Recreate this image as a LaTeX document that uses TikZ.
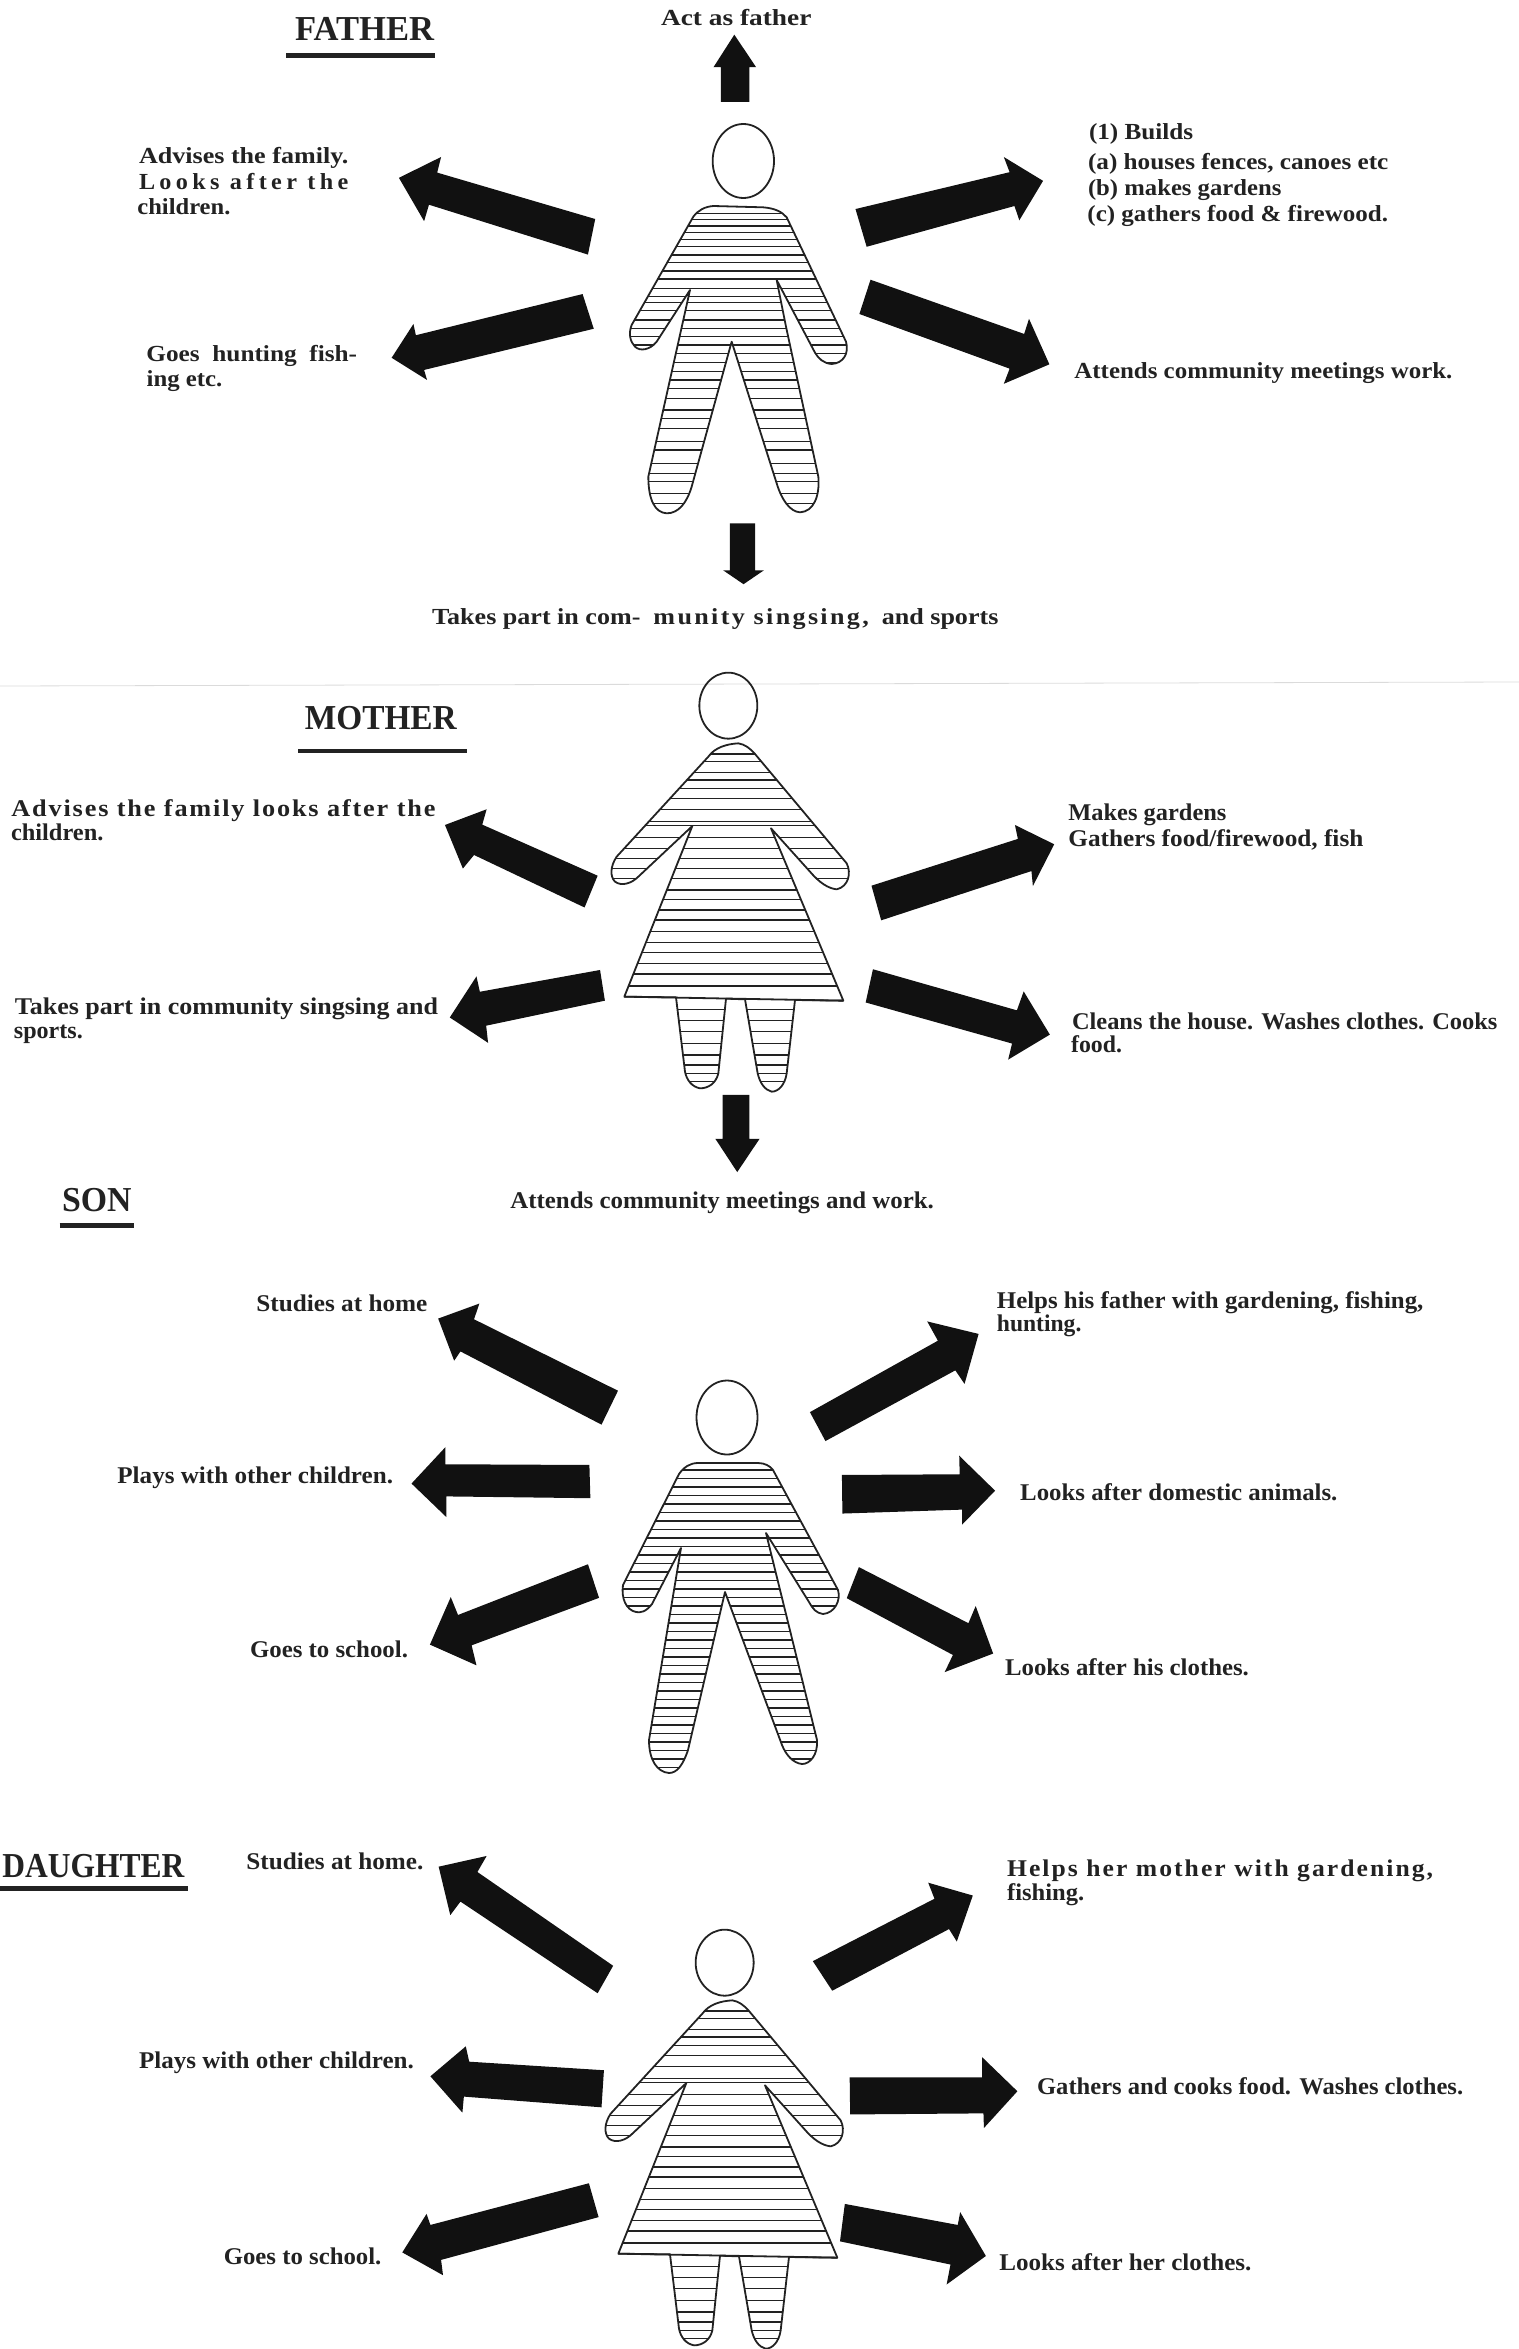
\documentclass[tikz,border=0pt]{standalone}
\usepackage{fontspec}
\usepackage{graphicx}
\setmainfont{Liberation Serif}
\newdimen\pxu \pxu=.5pt
\newcommand{\spc}[2]{{\addfontfeature{LetterSpace=#1}#2}}
\definecolor{ink}{HTML}{222222}
\definecolor{blk}{HTML}{111111}
\tikzset{
  txt/.style={anchor=base west,inner sep=0pt,xshift=-.5pt,yshift=-.6pt,text=ink,font=\fontsize{11.5}{13}\selectfont\bfseries},
  txtb/.style={txt,font=\fontsize{12}{14}\selectfont\bfseries},
  ttl/.style={anchor=base west,inner sep=0pt,text=ink,font=\fontsize{17.5}{20}\selectfont\bfseries},
  rulebar/.style={draw=ink,line width=2.2pt},
  blockarrow/.style={fill=blk,draw=none},
  figline/.style={draw=ink,line width=.9pt,line join=round},
  stripe/.style={draw=ink,line width=.75pt},
  faint/.style={draw=black!14,line width=.4pt},
  pnlA/.style={xscale=.4847,yscale=.4337},
  pnlB/.style={xscale=.4847,yscale=.3571},
  pnlC/.style={xscale=.4847,yscale=.3565}
}
% label: name, x, baseline y, width, text
\newcommand{\lbl}[5]{\node[txt] (#1) at (#2,#3) {\resizebox{#4\pxu}{\height}{#5}};}
\newcommand{\lblb}[5]{\node[txtb] (#1) at (#2,#3) {\resizebox{#4\pxu}{\height}{#5}};}
\newcommand{\ttlbl}[5]{\node[ttl] (#1) at (#2,#3) {\resizebox{#4\pxu}{\height}{#5}};}
\newcommand{\blockarr}[7]{\fill[blockarrow] #1 -- #2 -- #3 -- #4 -- #5 -- #6 -- #7 -- cycle;}
\def\manpath{(340,318) -- (490,322) .. controls (525,325) and (545,335) .. (560,352) -- (738,725) .. controls (748,760) and (730,790) .. (695,792) .. controls (670,790) and (655,775) .. (645,758) -- (530,540) -- (558,680) -- (655,1130) .. controls (660,1190) and (640,1235) .. (600,1237) .. controls (570,1235) and (545,1200) .. (530,1150) -- (395,725) -- (275,1160) .. controls (260,1210) and (235,1240) .. (200,1240) .. controls (165,1238) and (145,1200) .. (145,1130) -- (270,570) -- (170,725) .. controls (150,750) and (120,755) .. (105,740) .. controls (90,725) and (85,700) .. (95,675) -- (280,350) .. controls (295,330) and (315,320) .. (340,318) -- cycle}
\def\sonpath{(698,1463) -- (758,1463) .. controls (765,1463) and (770,1466) .. (773,1470) -- (838,1590) .. controls (841,1600) and (835,1613) .. (823,1614) .. controls (816,1613) and (813,1609) .. (809,1602) -- (766,1533) -- (817,1740) .. controls (818,1755) and (810,1764) .. (802,1764) .. controls (793,1763) and (786,1755) .. (782,1745) -- (725,1592) -- (688,1750) .. controls (683,1765) and (677,1773) .. (669,1773) .. controls (657,1772) and (649,1760) .. (649,1740) -- (681,1548) -- (652,1604) .. controls (646,1612) and (640,1613) .. (636,1612) .. controls (626,1610) and (621,1598) .. (623,1585) -- (679,1474) .. controls (684,1467) and (690,1463) .. (698,1463) -- cycle}
\def\womanpath{(355,290) .. controls (375,262) and (410,252) .. (445,250) .. controls (465,253) and (480,265) .. (495,282) -- (770,610) .. controls (785,640) and (775,680) .. (740,688) .. controls (715,685) and (690,670) .. (660,635) -- (543,505) -- (760,1022) -- (615,1020) -- (590,1240) .. controls (585,1275) and (565,1295) .. (545,1295) .. controls (525,1290) and (510,1270) .. (503,1240) -- (465,1018) -- (408,1016) -- (385,1240) .. controls (378,1270) and (355,1285) .. (330,1285) .. controls (305,1280) and (290,1260) .. (285,1235) -- (258,1012) -- (103,1010) -- (307,498) -- (145,650) .. controls (125,670) and (95,680) .. (75,665) .. controls (60,650) and (60,620) .. (80,590) -- (355,290) -- cycle}
\newcommand{\womanfig}[3]{%
  \begin{scope}[shift={(#1,#2)},scale=.33333]
    \begin{scope}
      \clip \womanpath;
      \foreach \yy in {282,305,337,360,385,415,448,485,497,533,565,595,625,655,690,718,750,780,815,848,878,910,942,978,1048,1082,1115,1150,1185,1215,1240,1265}
        \draw[stripe] (0,\yy) -- (900,\yy);
    \end{scope}
    \draw[figline] \womanpath;
    \draw[figline] (103,1010) -- (760,1022);
    \draw[figline] (#3,137) ellipse [x radius=87,y radius=99];
  \end{scope}}
\begin{document}
\begin{tikzpicture}[x=.5pt,y=-.5pt]
\useasboundingbox (0,0) rectangle (1519,2349);
\draw[faint] (0,686) -- (1519,682);

% ---------- figures ----------
\begin{scope}[shift={(600,100)},scale=.33333]
  \begin{scope}
    \clip \manpath;
    \foreach \yy in {340,358,378,398,418,440,465,488,513,537,565,590,608,632,660,685,710,735,760,788,815,840,865,895,930,955,985,1025,1050,1090,1120,1145,1180,1210}
      \draw[stripe] (0,\yy) -- (900,\yy);
  \end{scope}
  \draw[figline] \manpath;
  \draw[figline] (430,183) ellipse [x radius=92,y radius=111];
\end{scope}

\womanfig{590}{660}{415}
\womanfig{584}{1917}{422}

\begin{scope}
  \clip \sonpath;
  \foreach \yy in {1470,1478.5,1487,1495.5,1504,1512.5,1521,1529.5,1538,1546.5,1555,1563.5,1572,1580.5,1589,1597.5,1606,1614.5,1623,1631.5,1640,1648.5,1657,1665.5,1674,1682.5,1691,1699.5,1708,1716.5,1725,1733.5,1742,1750.5,1759,1767.5}
    \draw[stripe] (500,\yy) -- (900,\yy);
\end{scope}
\draw[figline] \sonpath;
\draw[figline] (727,1417.5) ellipse [x radius=30.5,y radius=37];

% ---------- arrows ----------
\begin{scope}[pnlA]
  \blockarr{(1515,80)}{(1472,155)}{(1487,155)}{(1487,235)}{(1546,235)}{(1546,155)}{(1560,155)}
  \blockarr{(823,410)}{(910,362)}{(902,398)}{(1228,505)}{(1213,587)}{(885,472)}{(875,510)}
  \blockarr{(808,825)}{(853,747)}{(858,773)}{(1202,678)}{(1225,758)}{(875,853)}{(881,876)}
  \blockarr{(1534,1347)}{(1492,1315)}{(1506,1315)}{(1506,1207)}{(1558,1207)}{(1558,1315)}{(1576,1315)}
\end{scope}
\begin{scope}[shift={(760,0)},pnlA]
  \blockarr{(584,417)}{(503,362)}{(515,397)}{(197,482)}{(220,569)}{(525,475)}{(535,508)}
  \blockarr{(597,840)}{(555,735)}{(545,770)}{(228,645)}{(205,724)}{(515,850)}{(503,885)}
\end{scope}
\begin{scope}[shift={(0,680)},pnlB]
  \blockarr{(918,406)}{(1004,362)}{(995,405)}{(1233,548)}{(1206,637)}{(978,490)}{(955,528)}
  \blockarr{(928,945)}{(983,830)}{(990,873)}{(1238,812)}{(1248,898)}{(1003,968)}{(1007,1016)}
  \blockarr{(1521,1378)}{(1476,1285)}{(1491,1285)}{(1491,1162)}{(1546,1162)}{(1546,1285)}{(1567,1285)}
\end{scope}
\begin{scope}[shift={(760,680)},pnlB]
  \blockarr{(607,460)}{(526,406)}{(532,445)}{(230,576)}{(250,673)}{(560,535)}{(563,577)}
  \blockarr{(598,993)}{(544,872)}{(530,925)}{(233,810)}{(218,903)}{(520,1018)}{(512,1063)}
\end{scope}
\begin{scope}[shift={(0,1240)},pnlB]
  \blockarr{(904,220)}{(989,178)}{(978,222)}{(1275,422)}{(1241,517)}{(950,312)}{(937,338)}
  \blockarr{(849,682)}{(919,580)}{(919,628)}{(1216,630)}{(1218,723)}{(921,718)}{(921,776)}
  \blockarr{(887,1133)}{(930,1000)}{(945,1050)}{(1213,908)}{(1236,1002)}{(973,1135)}{(983,1191)}
\end{scope}
\begin{scope}[shift={(760,1240)},pnlB]
  \blockarr{(451,263)}{(345,228)}{(367,282)}{(103,482)}{(135,563)}{(403,365)}{(422,403)}
  \blockarr{(485,702)}{(411,604)}{(412,656)}{(169,658)}{(170,766)}{(417,755)}{(417,797)}
  \blockarr{(481,1158)}{(445,1025)}{(430,1073)}{(204,916)}{(179,1003)}{(398,1162)}{(381,1210)}
\end{scope}
\begin{scope}[shift={(0,1790)},pnlC]
  \blockarr{(905,215)}{(1004,185)}{(985,230)}{(1265,493)}{(1233,570)}{(950,313)}{(929,351)}
  \blockarr{(888,803)}{(961,719)}{(968,762)}{(1246,786)}{(1241,890)}{(957,860)}{(954,905)}
  \blockarr{(830,1297)}{(880,1189)}{(888,1220)}{(1215,1103)}{(1235,1198)}{(910,1318)}{(914,1361)}
\end{scope}
\begin{scope}[shift={(760,1790)},pnlC]
  \blockarr{(439,296)}{(347,260)}{(360,305)}{(109,480)}{(149,563)}{(390,390)}{(406,425)}
  \blockarr{(531,845)}{(458,749)}{(458,806)}{(185,806)}{(186,910)}{(461,907)}{(462,948)}
  \blockarr{(466,1307)}{(413,1184)}{(408,1220)}{(175,1161)}{(165,1266)}{(393,1331)}{(385,1387)}
\end{scope}

% ---------- titles ----------
\ttlbl{fatherT}{294.7}{40.3}{139}{FATHER}
\draw[rulebar] (286,55.5) -- (435,55.5);
\ttlbl{motherT}{304.4}{729}{152}{MOTHER}
\draw[rulebar] (298,751) -- (467,751);
\ttlbl{sonT}{61.6}{1211}{69.5}{SON}
\draw[rulebar] (59.6,1225.3) -- (134,1225.3);
\ttlbl{daughterT}{2}{1877}{182}{DAUGHTER}
\draw[rulebar] (0,1888.4) -- (188,1888.4);

% ---------- father ----------
\lbl{f1}{661.6}{23.9}{150.4}{Act as father}
\lbl{f2}{139.6}{162.6}{209.4}{Advises the family.}
\lbl{f3}{139.6}{188.2}{209.4}{\spc{18}{Looks after the}}
\lbl{f4}{138}{213.4}{93}{children.}
\lbl{f5}{147}{360}{210.7}{Goes\enspace hunting\enspace fish-}
\lbl{f6}{147.3}{385}{75.7}{ing etc.}
\lbl{f7}{432.8}{623}{566.2}{Takes part in com-\enspace\spc{9}{munity singsing,}\enspace and sports}
\lbl{f8}{1089.6}{138}{104.2}{(1) Builds}
\lbl{f9}{1088.6}{168}{300.4}{(a) houses fences, canoes etc}
\lbl{f10}{1088.6}{194}{193.4}{(b) makes gardens}
\lbl{f11}{1088}{220}{300.7}{(c) gathers food \& firewood.}
\lbl{f12}{1075}{377}{378}{Attends community meetings work.}

% ---------- mother ----------
\lblb{m1}{12}{815}{424}{\spc{7}{Advises the family looks after the}}
\lblb{m2}{11.6}{839.6}{92.4}{children.}
\lblb{m3}{15.5}{1013}{423.1}{Takes part in community singsing and}
\lblb{m4}{14.5}{1037}{68.9}{sports.}
\lblb{m5}{511}{1207}{423.5}{Attends community meetings and work.}
\lblb{m6}{1069}{819}{158}{Makes gardens}
\lblb{m7}{1069}{845}{295}{Gathers food/firewood, fish}
\lblb{m8}{1072.6}{1028}{425.4}{Cleans the house. Washes clothes. Cooks}
\lblb{m9}{1071.7}{1051}{50.9}{food.}

% ---------- son ----------
\lblb{s1}{257}{1310.7}{171}{Studies at home}
\lblb{s2}{118}{1481.8}{275.6}{Plays with other children.}
\lblb{s3}{250.6}{1656.7}{158}{Goes to school.}
\lblb{s4}{997.5}{1307}{426.5}{Helps his father with gardening, fishing,}
\lblb{s5}{997.5}{1330}{84.5}{hunting.}
\lblb{s6}{1020.8}{1499.6}{317.2}{Looks after domestic animals.}
\lblb{s7}{1005.7}{1674}{243.8}{Looks after his clothes.}

% ---------- daughter ----------
\lblb{d1}{247}{1868.4}{177}{Studies at home.}
\lblb{d2}{139.6}{2067}{274.8}{Plays with other children.}
\lblb{d3}{224.4}{2263}{157.6}{Goes to school.}
\lblb{d4}{1007.7}{1875}{426}{\spc{8}{Helps her mother with gardening,}}
\lblb{d5}{1007.7}{1899}{77.1}{fishing.}
\lblb{d6}{1037.7}{2093}{426.1}{Gathers and cooks food. Washes clothes.}
\lblb{d7}{1000}{2269.5}{252}{Looks after her clothes.}
\end{tikzpicture}
\end{document}
